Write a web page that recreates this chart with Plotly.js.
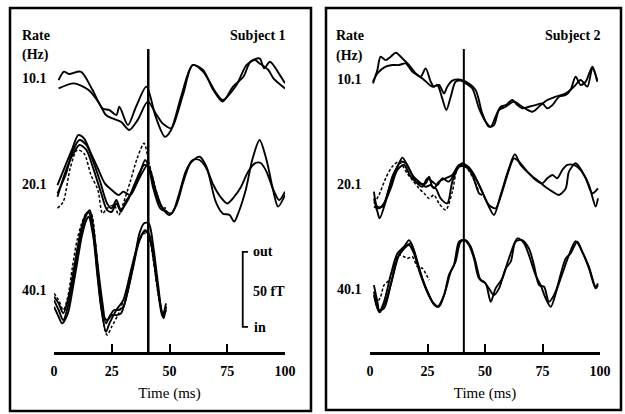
<!DOCTYPE html>
<html>
<head>
<meta charset="utf-8">
<script src="https://cdn.plot.ly/plotly-3.0.1.min.js"></script>
<style>html,body{margin:0;padding:0;background:#fff}#chart{width:625px;height:414px}</style>
</head>
<body>
<div id="chart"></div>
<script>
// ---- Data (time in ms, field in fT relative to each rate's own baseline) ----
const RATES = ["10.1", "20.1", "40.1"];
const TICKS = [0, 25, 50, 75, 100];
const STIM_MS = 40.8;
const SCALE_FT = 50;

// Subject 1, 10.1 Hz
const S1_R10_A_T = [2,4.3,6.5,11.6,16.7,21,24,27,28.3,32,35.5,40,44,48,50.7,55,60,64.5,69,73,77.5,82,85,89,91,93.5,97.8,100];
const S1_R10_A_V = [0,5.6,4,5.6,-6.7,-18.9,-20,-23.3,-17.8,-30,-17.8,-4.4,-24.4,-37.8,-33.3,-11.1,10,6.7,-6.7,-14.4,-4.4,2.2,12.2,14.4,7.8,12.2,3.3,-2.2];
const S1_R10_B_T = [2,8.7,15,19.6,22.5,25.4,29,32.6,36.2,40.6,44,47,50.7,52,56,60,64.5,70.3,73,79,83.3,87,89,92.8,95,100];
const S1_R10_B_V = [-5.6,-2.2,-6.7,-15.6,-23.3,-25.6,-27.8,-33.3,-26.7,-14.4,-22.2,-28.9,-32.2,-28.9,-8.9,10,5.6,-8.9,-13.3,-3.3,10,13.3,11.1,6.7,1.1,-5.6];

// Subject 1, 20.1 Hz
const S1_R20_A_T = [1.5,5,8,11,14,17,20,23,25,27,29,32,35,39,41,44,47,50,53,56,59,63,66,70,73,76,78,80,83,86,89,92,95,97,100];
const S1_R20_A_V = [-22.2,-10,5.5,13.3,10,-1.1,-14.5,-29,-32.2,-26.7,-33.4,-26.7,-15.6,-3.4,-4.5,-20,-32.2,-36.7,-30,-14.5,-2.2,2.2,-4.5,-27.8,-35.6,-36.7,-41.1,-34.5,-20,1.1,13.3,0,-21.1,-31.1,-23.4];
const S1_R20_B_T = [1.5,5,8,10.5,13,16,19,22,25,28,30,33,36,39.5,42,45,48,51,54,57,60,63,66,69,72,75,78,81,84,87,89.5,92,95,97.5,100];
const S1_R20_B_V = [-16.7,-3.4,7.8,16.6,14.4,4.4,-5.6,-15.6,-20,-23.4,-21.1,-23.4,-14.5,0,-10,-26.7,-33.4,-35.6,-23.4,-7.8,0,0,-5.6,-16.7,-24.5,-29,-24.5,-17.8,-7.8,-2.2,-2,-7.8,-20,-26.7,-21.1];
const S1_R20_C_T = [1.5,5,8,11,14,17,20,23,25,27,29,31,34,38,40.5,43,46,49];
const S1_R20_C_V = [-24.5,-7.8,3.3,10,6.7,-5.6,-20,-33.4,-34.5,-29,-34.5,-27.8,-21.1,-9,-3.4,-19,-32.2,-34.5];
const S1_R20_D_T = [1.5,4,7,10,13,16,19,21,23,26,28,30,33,36,39,41,44,46.5,48.5];
const S1_R20_D_V = [-32.2,-27.8,-5.6,6.7,4.4,-10,-20,-35.6,-32.2,-30,-36.7,-29,-14.5,1.1,11.1,-1.1,-19,-31.1,-32.2];

// Subject 1, 40.1 Hz
const S1_R40_A_T = [0,2,4,6,8,10,12,14,15.5,17,19,21,22.5,24,26,28,30,32,35,37,39,41,43,45,47,48.5];
const S1_R40_A_V = [-13.4,-20,-26.7,-17.8,-2.2,15.5,33.3,43.3,46.6,35.5,8.9,-15.6,-28.9,-24.5,-20,-20,-17.8,-6.7,15.5,31.1,37.8,37.8,22.2,-2.2,-23.4,-15.6];
const S1_R40_B_T = [0,2,3.5,6,8,10,12,14,15,17,19,21,23,25,27,29,31,34,37,39.5,42,44,46,47.5,48.5];
const S1_R40_B_V = [-17.8,-24.5,-28.9,-22.2,-6.7,11.1,28.9,40,42.2,28.9,0,-22.2,-26.7,-23.4,-23.4,-22.2,-13.4,6.6,26.6,33.3,24.4,4.4,-15.6,-25.6,-17.8];
const S1_R40_C_T = [0,2,4,6,8,10,12,14,15,17,19,21,22.5,24,27,30,33,36,39,41,43,45,47,48.5];
const S1_R40_C_V = [-11.1,-15.6,-22.2,-13.4,2.2,20,35.5,44.4,45.5,31.1,2.2,-24.5,-34.5,-28.9,-20,-13.4,4.4,22.2,32.2,31.1,15.5,-6.7,-24.5,-20];
const S1_R40_D_T = [0,2,4,6,8,10,12,14,16,18,20,22,23,25,28,31,34,37,39,41,43,45,47,48.5];
const S1_R40_D_V = [-8.9,-13.4,-20,-11.1,8.9,26.6,37.8,44.4,44.4,24.4,-8.9,-33.4,-36.7,-31.1,-22.2,-8.9,8.9,26.6,31.1,28.9,13.3,-8.9,-22.2,-17.8];

// Subject 2, 10.1 Hz
const S2_R10_A_T = [1.3,3.2,4.6,6.8,9,11.2,14.1,17,19.9,22,24.2,26.4,27.8,29.3,31.4,33.2,35.1,37.2,39.4,41.6,44.5,47.4,50.3,52.5,54.6,56.8,59,61.9,64.1,66.2,69.1,72,74.9,77.1,79.3,82.2,85.1,87.2,89.4,91.6,93.8,96.7,98.8];
const S2_R10_A_V = [-2.2,6.7,15.6,13.3,15.6,18.2,14.4,10,4.4,2.2,7.8,-1.1,-4.4,-3.3,-12.2,-20,-11.1,-1.1,-0.4,-2.2,-5.6,-18.9,-27.8,-31.1,-24.4,-17.8,-16.7,-13.3,-16.7,-18.9,-17.8,-16.7,-15.6,-18.9,-16.7,-11.1,-10,-6.7,2.2,-3.3,-1.1,8.9,-1.1];
const S2_R10_B_T = [1.3,3.2,6.8,9.7,12.6,15.5,18.4,22.8,27.1,30,32.2,33.6,35.8,38.7,41.6,45.9,48.8,51.7,53.9,56.1,59,62.6,66.2,70.6,74.2,77.1,80.7,85.1,88.7,91.6,94.5,96.7,98.8];
const S2_R10_B_V = [-1.1,4.4,8.9,10,10,11.1,5.6,1.1,-4.4,-3.3,-8.9,-4.4,-0.4,0.4,-1.1,-6.7,-22.2,-31.1,-30,-20,-17.8,-14.4,-17.8,-21.1,-16.7,-13.3,-11.1,-8.9,-4.4,0,-4.4,7.8,0];

// Subject 2, 20.1 Hz
const S2_R20_A_T = [1.7,3.2,4.2,6.8,9.7,12.6,14.1,16.2,18.4,21.3,24.2,26.4,27.8,30,32.9,35.8,38.7,41.6,44.5,48.1,51,53.9,56.8,60.4,63,65.5,69.1,73.5,77.1,79.3,82.2,85.1,86.5,89.4,92.3,95.2,98.1,99.1];
const S2_R20_A_V = [-8.9,-17.7,-22.2,-11.1,5.6,14.5,18.3,13.4,6.7,2.3,-1.1,0,-2.2,2.3,4.5,6.7,13.4,13.4,8.9,-2.2,-12.2,-20,-6.6,11.1,20.5,13.4,7.8,2.3,-2.2,-4.4,-6.6,-2.2,8.9,14.5,8.9,0,-14.4,-8.9];
const S2_R20_B_T = [1.7,3.2,5.4,8.3,11.2,13.3,15.5,17.7,19.9,22.8,24.9,27.1,29.3,31.4,34.3,37.2,40.1,43,45.9,48.8,51.7,54.6,57.5,60.4,62.6,64.8,68.4,72,74.9,77.1,79.3,81.4,83.6,85.8,88.7,91.6,93.8,96.7,99.1];
const S2_R20_B_V = [-4.4,-14.4,-14.4,-2.2,8.9,15.6,14.5,8.9,2.3,-1.1,4.5,2.3,0,4.5,2.3,8.9,14.5,11.1,4.5,-4.4,-13.3,-15.5,-4.4,10,17.8,15.6,8.9,3.4,1.1,4.5,6.7,4.5,10,13.4,13.4,10,4.5,-5.5,-2.2];
const S2_R20_C_T = [1.7,3.9,6.1,9,11.9,14.8,17.7,21.3,24.2,25.7,27.1,28.6,30.7,33.6,35.8,38.7,41.6,44.5,47.4,48.8];
const S2_R20_C_V = [-14.4,-15.5,-12.2,-2.2,10,13.4,5.6,1.1,1.1,5.6,-1.1,-2.2,-8.9,-12.2,2.3,12.3,12.3,6.7,-5.5,-6.6];
const S2_R20_D_T = [1.7,3.9,6.8,9.7,12.6,16.2,18.4,21.3,23.5,25.7,27.8,30,32.9,35.8,38,40.1,42.3,44.5,47.4];
const S2_R20_D_V = [-12.2,-6.6,4.5,12.3,15.6,7.8,3.4,-2.2,-5.5,-8.9,-6.6,-12.2,-16.6,-4.4,11.1,13.4,11.1,5.6,-4.4];

// Subject 2, 40.1 Hz
const S2_R40_A_T = [1.7,3.2,4.2,6.8,9.7,12.6,15.5,17.7,19.9,22.8,25.7,27.8,30,32.9,35.1,37.2,39.4,41.6,43.8,45.9,48.1,50.3,52.5,54.6,57.5,60.4,64.1,67,69.1,72,74.2,76.4,78.6,81.4,84.4,86.5,89.4,92.3,95.2,98.1,99.1];
const S2_R40_A_V = [3.3,-7.8,-14.9,-7.8,7.7,23.3,28.9,31.1,22.2,7.7,-3.4,-9.6,-11.1,0,12.2,18.9,32.2,33.3,28.9,18.9,6.6,4.4,-7.8,1.1,7.7,21.1,34.4,31.1,23.3,10,3.3,-5.6,-11.1,1.1,14.4,23.3,32.6,25.5,14.4,1.1,3.3];
const S2_R40_B_T = [1.7,3.9,6.1,9,11.9,14.8,17,19.1,22,24.9,27.1,29.3,32.2,34.3,36.5,38.7,40.9,43,45.2,47.4,49.6,51.7,53.9,56.1,59,61.2,63.3,66.2,69.1,71.3,73.5,75.7,77.8,80.7,83.6,85.1,87.2,90.1,92.3,95.2,98.1,99.1];
const S2_R40_B_V = [-1.1,-13.4,-12.2,3.3,21.1,27.7,30,24.4,10,-1.1,-7.8,-11.1,-3.4,10,16.6,32.2,33.3,30,21.1,7.7,5.5,1.1,-3.4,1.1,14.4,18.9,32.2,33.3,27.7,16.6,3.3,2.2,-7.8,-1.1,14.4,21.1,24.4,32.2,25.5,15.5,2.2,4.4];
const S2_R40_C_T = [1.7,3.9,6.1,9,11.9,14.8,17,19.1,21.3,24.2,27.1,29.3];
const S2_R40_C_V = [-3.4,-14.5,-7.8,10,24.4,28.9,33.3,26.6,14.4,1.1,-7.8,-11.1];
const S2_R40_D_T = [2.5,4.6,6.1,8.3,10.4,12.6,14.8,16.2,18.4,20.6,22.8,24.2,25.7];
const S2_R40_D_V = [-10,-4.5,3.3,6.6,16.6,23.3,22.2,21.1,22.2,15.5,14.4,11.1,6.6];

// ---- Layout constants (positions / styles) ----
const W = 625, H = 414;
const px = v => v / W, py = v => 1 - v / H;
// vertical position (fT on plotting axis) of each rate's baseline
const BASE = { s1: {"10.1": 181.3, "20.1": 128, "40.1": 48},
               s2: {"10.1": 181.3, "20.1": 111.3, "40.1": 41.3} };

const specs = [
  ["x","y","s1","10.1",S1_R10_A_T,S1_R10_A_V,false],
  ["x","y","s1","10.1",S1_R10_B_T,S1_R10_B_V,false],
  ["x","y","s1","20.1",S1_R20_A_T,S1_R20_A_V,false],
  ["x","y","s1","20.1",S1_R20_B_T,S1_R20_B_V,false],
  ["x","y","s1","20.1",S1_R20_C_T,S1_R20_C_V,false],
  ["x","y","s1","20.1",S1_R20_D_T,S1_R20_D_V,true],
  ["x","y","s1","40.1",S1_R40_A_T,S1_R40_A_V,false],
  ["x","y","s1","40.1",S1_R40_B_T,S1_R40_B_V,false],
  ["x","y","s1","40.1",S1_R40_C_T,S1_R40_C_V,false],
  ["x","y","s1","40.1",S1_R40_D_T,S1_R40_D_V,true],
  ["x2","y2","s2","10.1",S2_R10_A_T,S2_R10_A_V,false],
  ["x2","y2","s2","10.1",S2_R10_B_T,S2_R10_B_V,false],
  ["x2","y2","s2","20.1",S2_R20_A_T,S2_R20_A_V,false],
  ["x2","y2","s2","20.1",S2_R20_B_T,S2_R20_B_V,false],
  ["x2","y2","s2","20.1",S2_R20_C_T,S2_R20_C_V,false],
  ["x2","y2","s2","20.1",S2_R20_D_T,S2_R20_D_V,true],
  ["x2","y2","s2","40.1",S2_R40_A_T,S2_R40_A_V,false],
  ["x2","y2","s2","40.1",S2_R40_B_T,S2_R40_B_V,false],
  ["x2","y2","s2","40.1",S2_R40_C_T,S2_R40_C_V,false],
  ["x2","y2","s2","40.1",S2_R40_D_T,S2_R40_D_V,true]
];

const traces = specs.map(([xa, ya, subj, rate, t, v, dashed]) => ({
  type: "scatter", mode: "lines", xaxis: xa, yaxis: ya,
  x: t, y: v.map(d => d + BASE[subj][rate]),
  line: {color: "#000", width: dashed ? 1.5 : 1.9, dash: dashed ? "3px,2px" : "solid", shape: "spline", smoothing: 0.8},
  hoverinfo: "skip", showlegend: false
}));

const FONT = "Liberation Serif, DejaVu Serif, serif";
const tickFont = {family: FONT, size: 14, color: "#000", weight: "bold"};
function xaxisDef(domain) {
  return {
    domain: domain, range: [0, 100], tickvals: TICKS, ticktext: TICKS.map(String),
    ticks: "inside", ticklen: 8, tickwidth: 2, tickcolor: "#000",
    showline: true, linewidth: 2.5, linecolor: "#000", mirror: false,
    showgrid: false, zeroline: false, tickfont: tickFont, ticklabelstandoff: 5,
    title: {text: "Time (ms)", font: {family: FONT, size: 15, color: "#000"}, standoff: 9},
    automargin: false, fixedrange: true
  };
}
const yaxisDef = { domain: [py(352), py(40)], range: [0, 208], visible: false, fixedrange: true };

const yAxisTop = py(352), stimTop = py(49);
const shapes = [
  {type: "rect", xref: "paper", yref: "paper", x0: px(10), x1: px(311), y0: py(411), y1: py(8), line: {color: "#000", width: 2.5}},
  {type: "rect", xref: "paper", yref: "paper", x0: px(326), x1: px(621), y0: py(410), y1: py(8), line: {color: "#000", width: 2.5}},
  {type: "line", xref: "x", yref: "paper", x0: STIM_MS, x1: STIM_MS, y0: yAxisTop, y1: stimTop, line: {color: "#000", width: 2.5}},
  {type: "line", xref: "x2", yref: "paper", x0: STIM_MS, x1: STIM_MS, y0: yAxisTop, y1: stimTop, line: {color: "#000", width: 2}},
  // scale bar (50 fT) in subject 1 panel
  {type: "path", xref: "x", yref: "y", path: `M 84 ${16.7 + SCALE_FT} L 81.7 ${16.7 + SCALE_FT} L 81.7 16.7 L 84 16.7`, line: {color: "#000", width: 1.8}}
];

const lab = (x, y, text, anchor) => ({xref: "paper", yref: "paper", x: px(x), y: py(y), text: text, showarrow: false,
  xanchor: anchor || "left", yanchor: "middle", font: {family: FONT, size: 14, color: "#000", weight: "bold"}});
const annotations = [
  lab(20, 35, "Rate"), lab(20, 55, "(Hz)"), lab(288, 35, "Subject 1", "right"),
  lab(334, 35, "Rate"), lab(334, 56, "(Hz)"), lab(603, 35, "Subject 2", "right"),
  lab(20, 79, RATES[0]), lab(20, 184, RATES[1]), lab(20, 290, RATES[2]),
  lab(335, 80, RATES[0]), lab(335, 184, RATES[1]), lab(335, 289, RATES[2]),
  lab(251, 251, "out"), lab(251, 291, "50 fT"), lab(252, 327, "in")
];

const layout = {
  width: W, height: H, margin: {l: 0, r: 0, t: 0, b: 0},
  paper_bgcolor: "#fff", plot_bgcolor: "rgba(0,0,0,0)",
  xaxis: xaxisDef([px(54), px(285)]), yaxis: Object.assign({}, yaxisDef),
  xaxis2: Object.assign(xaxisDef([px(370), px(600)]), {anchor: "y2"}),
  yaxis2: Object.assign({}, yaxisDef, {anchor: "x2"}),
  shapes: shapes, annotations: annotations, showlegend: false
};
layout.xaxis.anchor = "y";

Plotly.newPlot("chart", traces, layout, {staticPlot: true, displayModeBar: false});
</script>
</body>
</html>
